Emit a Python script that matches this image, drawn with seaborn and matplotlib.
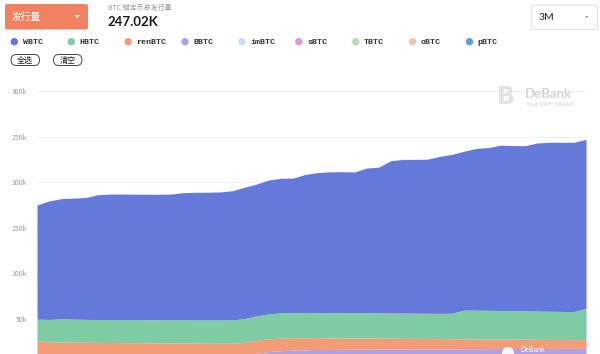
import numpy as np
import pandas as pd
import seaborn as sns
import matplotlib.pyplot as plt
from matplotlib.patches import FancyBboxPatch, Circle, Polygon
from matplotlib.ticker import FuncFormatter

# values in thousands of BTC, one point every 2 days over 3 months
wbtc = [125.0, 130.0, 131.5, 132.6, 133.6, 137.0, 137.7, 137.6, 137.6, 137.6,
        137.6, 137.9, 139.5, 139.9, 140.0, 140.3, 141.5, 144.0, 144.5, 147.0,
        147.4, 147.5, 151.4, 153.4, 154.4, 154.6, 154.4, 158.7, 159.8, 166.9,
        168.5, 168.6, 168.9, 172.1, 174.2, 174.2, 177.3, 178.5, 181.4, 181.1,
        181.1, 184.3, 185.3, 185.5, 185.7, 185.3]
hbtc = [24.1, 24.6, 25.9, 25.5, 25.2, 25.0, 25.1, 25.3, 25.3, 25.3,
        25.4, 25.4, 25.5, 25.5, 25.6, 25.7, 25.8, 26.3, 27.0, 27.2,
        27.9, 27.5, 27.6, 27.6, 27.6, 27.6, 27.6, 27.7, 27.7, 27.7,
        27.7, 27.7, 27.7, 27.7, 27.9, 31.5, 31.5, 31.4, 31.3, 31.2,
        31.1, 31.0, 30.9, 30.8, 30.7, 34.4]
renbtc = [16.9, 15.9, 15.6, 15.5, 15.4, 15.3, 15.2, 15.1, 15.0, 14.9,
          14.8, 14.7, 14.6, 14.5, 14.4, 14.3, 14.3, 14.2, 14.0, 14.0,
          13.7, 13.6, 13.4, 13.0, 12.8, 12.6, 12.4, 12.2, 12.0, 11.8,
          11.7, 11.5, 11.4, 11.2, 11.1, 10.9, 10.8, 10.6, 10.4, 10.3,
          10.1, 10.0, 9.9, 9.7, 9.6, 9.5]
bbtc = [6.9, 6.9, 6.9, 6.9, 6.9, 6.9, 6.9, 6.9, 6.9, 6.9,
        6.9, 6.9, 6.9, 6.9, 6.9, 6.9, 6.9, 7.9, 10.4, 12.2,
        13.2, 13.8, 14.1, 14.4, 14.5, 14.6, 14.7, 14.8, 14.9, 15.0,
        15.0, 15.1, 15.1, 15.2, 15.2, 15.3, 15.3, 15.4, 15.5, 15.5,
        15.6, 15.6, 15.6, 15.7, 15.7, 15.7]
imbtc = [0.3, 0.3, 0.3, 0.3, 0.3, 0.3, 0.3, 0.3, 0.3, 0.3,
         0.3, 0.3, 0.3, 0.3, 0.3, 0.3, 0.3, 0.3, 0.3, 0.3,
         0.3, 0.3, 0.3, 0.3, 0.3, 0.3, 0.3, 0.3, 0.3, 0.3,
         0.3, 0.3, 0.3, 0.3, 0.3, 0.3, 0.3, 0.3, 0.3, 0.3,
         0.3, 0.3, 0.3, 0.3, 0.3, 0.3]
sbtc = [1.0, 1.0, 1.0, 1.0, 1.0, 1.0, 1.0, 1.0, 1.0, 1.0,
        1.0, 1.0, 1.0, 1.0, 1.0, 1.0, 1.0, 1.0, 1.0, 1.0,
        1.0, 1.0, 1.0, 1.0, 1.0, 1.0, 1.0, 1.0, 1.0, 1.0,
        1.0, 1.0, 1.0, 1.0, 1.0, 1.0, 1.0, 1.0, 1.0, 1.0,
        1.0, 1.0, 1.0, 1.0, 1.0, 1.0]
tbtc = [0.5, 0.5, 0.5, 0.5, 0.5, 0.5, 0.5, 0.5, 0.5, 0.5,
        0.5, 0.5, 0.5, 0.5, 0.5, 0.5, 0.5, 0.5, 0.5, 0.5,
        0.5, 0.5, 0.5, 0.5, 0.5, 0.5, 0.5, 0.5, 0.5, 0.5,
        0.5, 0.5, 0.5, 0.5, 0.5, 0.5, 0.5, 0.5, 0.5, 0.5,
        0.5, 0.5, 0.5, 0.5, 0.5, 0.5]
obtc = [0.1, 0.1, 0.1, 0.1, 0.1, 0.1, 0.1, 0.1, 0.1, 0.1,
        0.1, 0.1, 0.1, 0.1, 0.1, 0.1, 0.1, 0.1, 0.1, 0.1,
        0.1, 0.1, 0.1, 0.1, 0.1, 0.1, 0.1, 0.1, 0.1, 0.1,
        0.1, 0.1, 0.1, 0.1, 0.1, 0.1, 0.1, 0.1, 0.1, 0.1,
        0.1, 0.1, 0.1, 0.1, 0.1, 0.1]
pbtc = [0.2, 0.2, 0.2, 0.2, 0.2, 0.2, 0.2, 0.2, 0.2, 0.2,
        0.2, 0.2, 0.2, 0.2, 0.2, 0.2, 0.2, 0.2, 0.2, 0.2,
        0.2, 0.2, 0.2, 0.2, 0.2, 0.2, 0.2, 0.2, 0.2, 0.2,
        0.2, 0.2, 0.2, 0.2, 0.2, 0.2, 0.2, 0.2, 0.2, 0.2,
        0.2, 0.2, 0.2, 0.2, 0.2, 0.2]

names = ["WBTC", "HBTC", "renBTC", "BBTC", "imBTC", "sBTC", "TBTC", "oBTC", "pBTC"]
colors = ["#6479D9", "#7FCCA4", "#F29B76", "#B1A0E1", "#C5DDF2",
          "#DB9BDD", "#B3DEB6", "#F3C4A6", "#5E9FD8"]
yticks = [50, 100, 150, 200, 250, 300]

dates = pd.date_range("2021-04-05", periods=len(wbtc), freq="2D")
df = pd.DataFrame({"WBTC": wbtc, "HBTC": hbtc, "renBTC": renbtc, "BBTC": bbtc,
                   "imBTC": imbtc, "sBTC": sbtc, "TBTC": tbtc, "oBTC": obtc,
                   "pBTC": pbtc}, index=dates) * 1000

sns.set_theme(style="white")
plt.rcParams['font.family'] = ['Noto Sans CJK SC', 'DejaVu Sans']

fig = plt.figure(figsize=(6, 3.54), dpi=100)
W, H = 600, 354

# chart axes, bottom runs off the picture like in the screenshot
ax = fig.add_axes([37 / W, 1 - 364.6 / H, (586 - 37) / W, (364.6 - 91) / H])
order = names[::-1]
ax.stackplot(df.index, [df[n] for n in order],
             colors=[colors[names.index(n)] for n in order], linewidth=0)
ax.set_xlim(df.index[0], df.index[-1])
ax.set_ylim(0, 300000)
ax.set_yticks([v * 1000 for v in yticks])
ax.yaxis.set_major_formatter(FuncFormatter(lambda v, p: f"{v / 1000:.0f}k"))
ax.tick_params(axis="y", length=0, pad=7, labelsize=5, labelcolor="#999999")
ax.set_xticks([])
ax.grid(axis="y", color="#eeeeee", linewidth=0.8)
ax.set_axisbelow(True)
sns.despine(ax=ax, left=True, bottom=True)

# overlay in pixel coordinates for the page elements
ov = fig.add_axes([0, 0, 1, 1], facecolor="none")
ov.set_xlim(0, W)
ov.set_ylim(H, 0)
ov.axis("off")

ov.add_patch(FancyBboxPatch((5, 4), 83, 25.5, boxstyle="round,pad=0,rounding_size=2",
                            fc="#F08262", ec="none"))
ov.text(12, 16.5, "发行量", color="white", fontsize=7, va="center", ha="left")
ov.add_patch(Polygon([[74.5, 15], [80, 15], [77.25, 18]], closed=True, fc="white", ec="none"))

ov.text(108, 7.5, "BTC 锚定币总发行量", color="#9a9a9a", fontsize=5, va="center", ha="left")
ov.text(107.5, 22, "247.02K", color="#1a1a1a", fontsize=9.5, fontweight="bold",
        va="center", ha="left", family=["Lato", "DejaVu Sans"])

ov.add_patch(FancyBboxPatch((531.5, 5), 66, 24.5, boxstyle="round,pad=0,rounding_size=2",
                            fc="white", ec="#e2e2e2", lw=0.8))
ov.text(538.5, 17, "3M", color="#222222", fontsize=7.5, va="center", ha="left",
        family=["Lato", "DejaVu Sans"])
ov.add_patch(Polygon([[585.2, 16], [588.2, 16], [586.7, 18]], closed=True, fc="#888888", ec="none"))

# legend row
for i, (n, c) in enumerate(zip(names, colors)):
    cx = 14.3 + i * 56.9
    ov.add_patch(Circle((cx, 41.7), 3.7, fc=c, ec="none"))
    ov.text(cx + 8.3, 42, n, fontsize=6, fontweight="bold", va="center", ha="left",
            color="#333333", family=["Liberation Mono", "DejaVu Sans Mono"])

for x0, label in [(11, "全选"), (53.5, "清空")]:
    ov.add_patch(FancyBboxPatch((x0, 54.5), 28.5, 11, boxstyle="round,pad=0,rounding_size=5.5",
                                fc="white", ec="#444444", lw=0.7))
    ov.text(x0 + 14.25, 60, label, fontsize=5.8, va="center", ha="center", color="#222222")

# DeBank watermark
ov.text(497, 97.5, "B", fontsize=17, fontweight="bold", color="#e2e2e2", va="center",
        ha="left", family=["DejaVu Sans"])
ov.text(524.5, 94.5, "DeBank", fontsize=9.5, fontweight="bold", color="#d4d4d4",
        va="center", ha="left", family=["Lato", "DejaVu Sans"])
ov.text(525, 105, "Your DeFi Wallet", fontsize=4.6, color="#cfcfcf", va="center",
        ha="left", family=["Lato", "DejaVu Sans"])

ov.add_patch(Circle((508, 353), 6, fc="white", ec="none", alpha=0.9))
ov.text(520, 349, "DeBank", fontsize=5, color="white", va="center", ha="left",
        family=["Lato", "DejaVu Sans"])

fig.savefig("out.png", dpi=100)
